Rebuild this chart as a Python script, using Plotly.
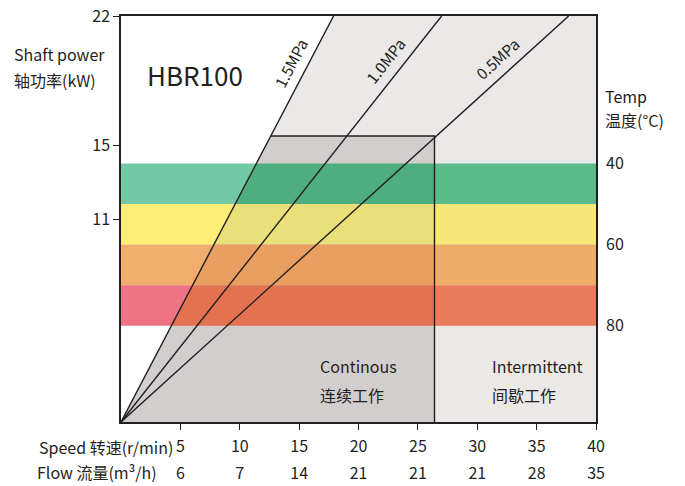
import math
import plotly.graph_objects as go

# ---------------- data ----------------
speed_ticks = [5, 10, 15, 20, 25, 30, 35, 40]
flow_labels = ["6", "7", "14", "21", "21", "21", "28", "35"]
power_ticks = [11, 15, 22]
temp_ticks = [40, 60, 80]
temp_band_edges = [40, 50, 60, 70, 80]
pressure_names = ["1.5MPa", "1.0MPa", "0.5MPa"]
pressure_speed_at_max_power = [17.9, 27.0, 37.7]
continuous_speed_limit = 26.4
continuous_power_limit = 15.5
speed_range = [0, 40]
power_range = [0, 22]
temp_range = [103.7, 3.7]   # temperature at power 0 and at max power

# ---------------- style ----------------
FONT = "Noto Sans CJK SC, Noto Sans, sans-serif"
INK = "#231f20"
OFF = 0  # page body margin (removed via post_script)
W, H = 685 - OFF, 486 - OFF
ML, MT = 121 - OFF, 16 - OFF
PW, PH = 475, 406
MR, MB = W - ML - PW, H - MT - PH

band_left = ["#72caa4", "#fbee76", "#f0ad6e", "#ee7384"]
band_cont = ["#4fae80", "#eae07a", "#e89f61", "#e37350"]
band_int = ["#5cba8b", "#f6e878", "#efac69", "#ea7b5b"]
grey_int = "#ebe8e8"
grey_cont = "#d3cece"


def temp_to_power(t):
    t0, t1 = temp_range
    return power_range[1] * (t0 - t) / (t0 - t1)


def px(xr):
    return (xr - OFF - ML) / PW


def py(yr):
    return (MT + PH - (yr - OFF)) / PH


s15 = pressure_speed_at_max_power[0]
pmax = power_range[1]


def x_on_15(p):
    return s15 * p / pmax


fig = go.Figure()


def poly(xs, ys, color):
    fig.add_trace(go.Scatter(x=xs + [xs[0]], y=ys + [ys[0]], fill="toself",
                             fillcolor=color, mode="lines", line=dict(width=0),
                             hoverinfo="skip", showlegend=False))


poly([0, s15, speed_range[1], speed_range[1]], [0, pmax, pmax, 0], grey_int)
cp = continuous_power_limit
cs = continuous_speed_limit
poly([0, x_on_15(cp), cs, cs], [0, cp, cp, 0], grey_cont)

for i in range(len(temp_band_edges) - 1):
    p_hi = temp_to_power(temp_band_edges[i])
    p_lo = temp_to_power(temp_band_edges[i + 1])
    poly([0, x_on_15(p_lo), x_on_15(p_hi), 0], [p_lo, p_lo, p_hi, p_hi], band_left[i])
    poly([x_on_15(p_lo), cs, cs, x_on_15(p_hi)], [p_lo, p_lo, p_hi, p_hi], band_cont[i])
    poly([cs, speed_range[1], speed_range[1], cs], [p_lo, p_lo, p_hi, p_hi], band_int[i])

for s in pressure_speed_at_max_power:
    fig.add_trace(go.Scatter(x=[0, s], y=[0, pmax], mode="lines",
                             line=dict(color=INK, width=1.4),
                             hoverinfo="skip", showlegend=False))

fig.add_trace(go.Scatter(x=[x_on_15(cp), cs, cs], y=[cp, cp, 0], mode="lines",
                         line=dict(color=INK, width=1.4),
                         hoverinfo="skip", showlegend=False))

fig.add_trace(go.Scatter(x=speed_ticks, y=[None] * len(speed_ticks), xaxis="x2",
                         mode="markers", showlegend=False, hoverinfo="skip"))
fig.add_trace(go.Scatter(x=[0], y=[None], yaxis="y2",
                         mode="markers", showlegend=False, hoverinfo="skip"))

px_x = PW / (speed_range[1] - speed_range[0])
px_y = PH / (power_range[1] - power_range[0])

annotations = []
for name, s in zip(pressure_names, pressure_speed_at_max_power):
    dx, dy = s * px_x, pmax * px_y
    L = math.hypot(dx, dy)
    ux, uy = dx / L, dy / L
    ang = -math.degrees(math.atan2(dy, dx))
    t = 0.866
    off = 17
    annotations.append(dict(x=t * s, y=t * pmax, xref="x", yref="y", text=name,
                            textangle=ang, showarrow=False,
                            xshift=-uy * off, yshift=ux * off,
                            font=dict(size=15.5, color=INK, family=FONT)))


def txt(x, y, text, anchor="left", size=16, ref="paper"):
    return dict(x=x, y=y, xref=ref if ref == "paper" else "x",
                yref=ref if ref == "paper" else "y", text=text, showarrow=False,
                xanchor=anchor, yanchor="middle",
                font=dict(size=size, color=INK, family=FONT))


annotations += [
    txt(2.05, 18.85, "HBR100", size=26, ref="data"),
    txt(16.6, 3.03, "Continous", ref="data"),
    txt(16.6, 1.49, "连续工作", ref="data"),
    txt(31.1, 3.03, "Intermittent", ref="data"),
    txt(31.1, 1.49, "间歇工作", ref="data"),
    txt(px(12), py(54), "Shaft power"),
    txt(px(12), py(80), "轴功率(kW)"),
    txt(px(603), py(96), "Temp"),
    txt(px(603), py(120), "温度(°C)"),
    txt(px(175), py(447), "Speed 转速(r/min)", anchor="right"),
    txt(px(159), py(472), "Flow 流量(m³/h)", anchor="right"),
]

axis_font = dict(size=16, color=INK, family=FONT)

fig.update_layout(
    width=W, height=H,
    margin=dict(l=ML, r=MR, t=MT, b=MB, autoexpand=False),
    paper_bgcolor="white", plot_bgcolor="white",
    showlegend=False,
    annotations=annotations,
    xaxis=dict(range=speed_range, tickvals=speed_ticks,
               ticktext=[str(v) for v in speed_ticks],
               ticks="outside", ticklen=6, tickwidth=1.3, tickcolor=INK,
               showline=True, linecolor=INK, linewidth=1.5, mirror=True,
               ticklabelstandoff=3, ticklabeloverflow="allow",
               showgrid=False, zeroline=False, tickfont=axis_font, automargin=False),
    xaxis2=dict(range=speed_range, overlaying="x", anchor="free", position=0,
                side="bottom", tickvals=speed_ticks, ticktext=flow_labels,
                ticks="", showline=False, showgrid=False, zeroline=False,
                ticklabelstandoff=40, ticklabeloverflow="allow",
                tickfont=axis_font, automargin=False),
    yaxis=dict(range=power_range, tickvals=power_ticks,
               ticktext=[str(v) for v in power_ticks],
               ticks="outside", ticklen=6, tickwidth=1.3, tickcolor=INK,
               showline=True, linecolor=INK, linewidth=1.5, mirror=True,
               ticklabeloverflow="allow",
               showgrid=False, zeroline=False, tickfont=axis_font, automargin=False),
    yaxis2=dict(range=temp_range, overlaying="y", side="right",
                tickvals=temp_ticks, ticktext=[str(v) for v in temp_ticks],
                ticks="", showline=False, showgrid=False, zeroline=False,
                ticklabelstandoff=9, ticklabeloverflow="allow",
                tickfont=axis_font, automargin=False),
)

fig.write_html("out.html", config={"displayModeBar": False},
               post_script="document.body.style.margin='0';")
